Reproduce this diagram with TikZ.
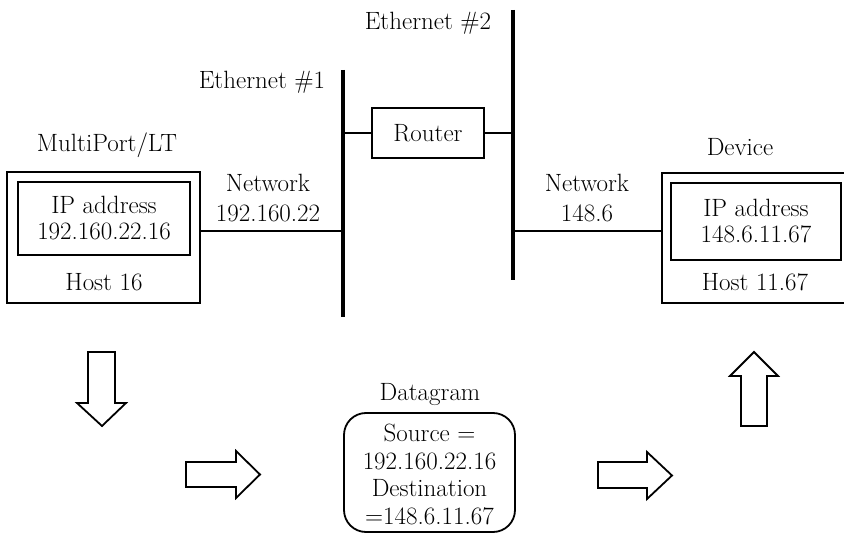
\documentclass[tikz,border=0pt]{standalone}
\usepackage{fontspec}
\begin{document}
\begin{tikzpicture}[x=1pt,y=-1pt,
  txt/.style={inner sep=0pt,align=center,font=\fontsize{25}{26}\selectfont},
  txtwide/.style={inner sep=0pt,align=center,font=\fontsize{25}{30}\selectfont},
  box/.style={draw,line width=1.8pt,inner sep=0pt},
  bus/.style={line width=4.5pt},
  wire/.style={line width=1.5pt},
  blockarrow/.style={draw,line width=1.8pt,line join=miter}]
\useasboundingbox (0,0) rectangle (844,534);

% ---- MultiPort/LT host
\node[box,minimum width=193pt,minimum height=131pt] (hostA) at (103.5,237.5) {};
\node[box,txt,minimum width=172pt,minimum height=73pt] (ipA) at (104,218.5) {IP address\\192.160.22.16};
\node[txt] (hostAlbl) at (104,282) {Host 16};
\node[txt] (mp) at (107,145) {MultiPort/LT};

% ---- Ethernet buses
\coordinate (e1top) at (343,70);
\coordinate (e1bot) at (343,317);
\coordinate (e2top) at (513,10);
\coordinate (e2bot) at (513,280);
\draw[bus] (e1top) -- (e1bot);
\draw[bus] (e2top) -- (e2bot);
\node[txt] (e1lbl) at (262,82) {Ethernet \#1};
\node[txt] (e2lbl) at (428,23) {Ethernet \#2};

% ---- Router
\node[box,txt,minimum width=112pt,minimum height=50pt] (router) at (428,133) {Router};
\draw[wire] (router.west) -- (router.west -| e1top);
\draw[wire] (router.east) -- (router.east -| e2top);

% ---- left network link
\coordinate (la) at (200,231);
\draw[wire] (la) -- (la -| e1top);
\node[txtwide] (netA) at (268,198) {Network\\192.160.22};

% ---- right network link
\coordinate (ra) at (662,231);
\draw[wire] (ra) -- (ra -| e2top);
\node[txtwide] (netB) at (587,198) {Network\\148.6};

% ---- Device
\coordinate (dtr) at (846,173);
\coordinate (dtl) at (662,173);
\coordinate (dbl) at (662,303);
\coordinate (dbr) at (846,303);
\draw[line width=1.8pt] (dtr) -- (dtl) -- (dbl) -- (dbr);
\node[box,txt,minimum width=170pt,minimum height=77pt] (ipB) at (756,221.5) {IP address\\148.6.11.67};
\node[txt] (hostBlbl) at (755,282) {Host 11.67};
\node[txt] (dev) at (740,147) {Device};

% ---- Datagram
\node[txt] (dglbl) at (430,395) {Datagram};
\node[draw,line width=1.8pt,rounded corners=22pt,minimum width=171pt,minimum height=119pt,inner sep=0pt] (dg) at (429.5,472.5) {};
\node[inner sep=0pt,align=center,font=\fontsize{25}{27.7}\selectfont] (dgtxt) at (429.5,474.5) {Source =\\192.160.22.16\\Destination\\=148.6.11.67};

% ---- block arrows
\draw[blockarrow] (88,352) -- (115,352) -- (115,403) -- (126,403) -- (102,426) -- (77,403) -- (88,403) -- cycle;
\draw[blockarrow] (186,462) -- (236,462) -- (236,451) -- (260,474.5) -- (236,498) -- (236,487) -- (186,487) -- cycle;
\draw[blockarrow] (598,462) -- (647,462) -- (647,452) -- (672,475.5) -- (647,499) -- (647,488) -- (598,488) -- cycle;
\draw[blockarrow] (741,426) -- (767,426) -- (767,376) -- (778,376) -- (754,352) -- (730,376) -- (741,376) -- cycle;
\end{tikzpicture}
\end{document}
